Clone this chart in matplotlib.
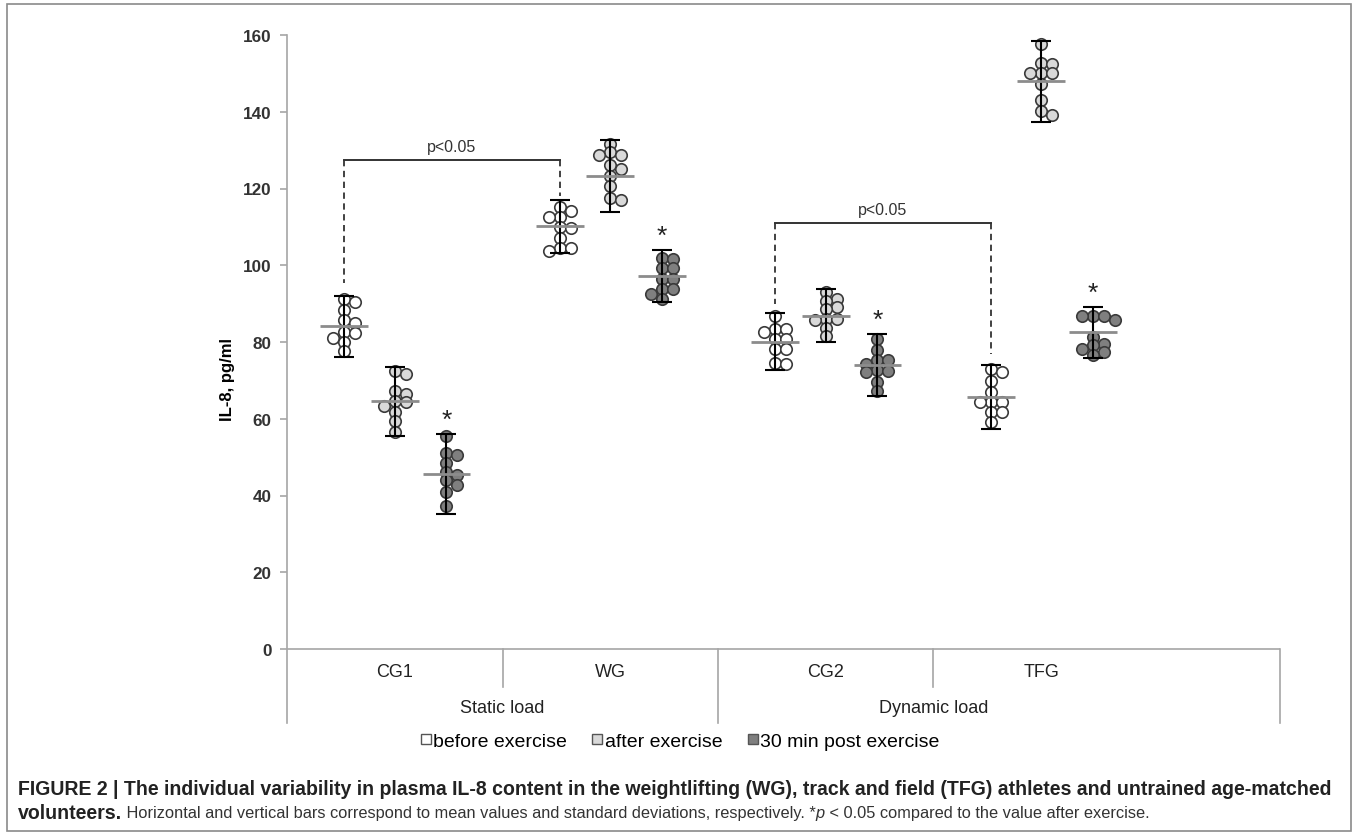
import numpy as np
import matplotlib
matplotlib.use("Agg")
import matplotlib.pyplot as plt
from matplotlib.lines import Line2D
from matplotlib.patches import Rectangle
from matplotlib import font_manager

plt.rcParams['font.family'] = ['Liberation Sans', 'DejaVu Sans']

# 数据
groups = ["CG1", "WG", "CG2", "TFG"]
load_types = ["Static load", "Dynamic load"]
phases = ["before exercise", "after exercise", "30 min post exercise"]

# 每组 10 个个体值：[before, after, 30 min]
cg1 = [
    [91.2, 90.3, 88.4, 85.7, 84.9, 82.7, 82.3, 81.0, 79.9, 77.7],
    [72.5, 71.7, 67.3, 66.4, 64.7, 64.4, 63.2, 61.8, 59.3, 56.6],
    [55.6, 51.2, 50.6, 48.5, 46.2, 45.4, 44.1, 42.7, 40.8, 37.2],
]
wg = [
    [115.1, 114.2, 112.5, 112.5, 109.9, 109.7, 107.2, 104.5, 104.4, 103.8],
    [131.5, 129.5, 128.7, 128.7, 126.0, 125.2, 123.2, 120.6, 117.4, 117.1],
    [101.8, 101.6, 99.2, 99.2, 96.4, 96.4, 93.8, 93.8, 92.5, 91.2],
]
cg2 = [
    [86.9, 83.4, 83.4, 82.5, 80.8, 80.8, 78.2, 78.2, 74.5, 74.3],
    [93.0, 91.2, 90.8, 89.0, 88.6, 86.0, 86.0, 85.8, 83.6, 81.6],
    [80.8, 78.0, 75.2, 75.2, 74.3, 72.8, 72.5, 72.3, 69.7, 67.3],
]
tfg = [
    [73.0, 72.3, 69.8, 67.1, 64.4, 64.4, 64.4, 61.8, 61.8, 59.2],
    [157.7, 152.7, 152.4, 150.0, 150.0, 150.0, 147.2, 143.1, 140.3, 139.2],
    [86.9, 86.9, 86.9, 85.8, 81.2, 79.5, 79.1, 78.2, 77.3, 76.5],
]
all_vals = [cg1, wg, cg2, tfg]

# 均值与标准差
means = [
    [84.1, 64.5, 45.6],
    [110.1, 123.3, 97.1],
    [80.1, 86.9, 74.0],
    [65.7, 147.9, 82.5],
]
sds = [
    [7.9, 9.0, 10.4],
    [7.0, 9.3, 6.8],
    [7.5, 6.8, 8.05],
    [8.25, 10.5, 6.6],
]

yticks = [0, 20, 40, 60, 80, 100, 120, 140, 160]

# 显著性括号：(组, 阶段) 到 (组, 阶段), 横线高度, 左端下落, 右端下落
brackets = [
    ((0, 0), (1, 0), 127.4, 95.5, 118.0),
    ((2, 0), (3, 0), 111.0, 89.8, 77.0),
]

W, H = 1358, 837
face_colors = ["white", "#d9d9d9", "#7f7f7f"]
edge_color = "#3a3a3a"
phase_shift = [-0.235, 0.0, 0.24]

fig = plt.figure(figsize=(W / 100, H / 100), dpi=100)
ax_left, ax_right, ax_top, ax_bottom = 287, 1280, 36, 724
ax = fig.add_axes([ax_left / W, 1 - ax_bottom / H,
                   (ax_right - ax_left) / W, (ax_bottom - ax_top) / H])
px_per_unit_y = (650 - 36) / 160.0
px_per_cat = 215.5
ax.set_ylim(-(ax_bottom - 650) / px_per_unit_y, 160)
ax.set_xlim(-0.5, -0.5 + (ax_right - ax_left) / px_per_cat)

for s in ["top", "right", "bottom"]:
    ax.spines[s].set_visible(False)
ax.spines["left"].set_color("#a6a6a6")
ax.spines["left"].set_linewidth(1.2)
ax.set_yticks(yticks)
ax.set_yticklabels([str(t) for t in yticks], fontsize=12.3, fontweight="bold", color="#333333")
ax.tick_params(axis="y", length=5, color="#a6a6a6", width=1.2, pad=6)
ax.set_xticks([])
ax.set_ylabel("IL-8, pg/ml", fontsize=12, fontweight="bold", labelpad=6)

# 零线与分类表格线
ax.axhline(0, color="#a6a6a6", lw=1.2, zorder=1)
ybot = ax.get_ylim()[0]
short_end = (650 - 688) / px_per_unit_y
for xs in [0.5, 2.5]:
    ax.plot([xs, xs], [0, short_end], color="#a6a6a6", lw=1.2, clip_on=False)
for xs in [1.5, ax.get_xlim()[1]]:
    ax.plot([xs, xs], [0, ybot], color="#a6a6a6", lw=1.2, clip_on=False)
for i, g in enumerate(groups):
    ax.text(i, (650 - 673) / px_per_unit_y, g, ha="center", va="center", fontsize=13, color="#222222")
for j, lt in enumerate(load_types):
    ax.text(0.5 + 2 * j, (650 - 709) / px_per_unit_y, lt, ha="center", va="center", fontsize=13,
            color="#222222")


def swarm_offsets(vals, col_px=11.0, min_d=7.5):
    pts = []
    offs = []
    for v in vals:
        yp = ax.transData.transform((0, v))[1]
        xp = 0.0
        for k in [0, 1, -1, 2, -2]:
            xp = k * col_px
            if all((xp - a) ** 2 + (yp - b) ** 2 >= min_d ** 2 for a, b in pts):
                break
        pts.append((xp, yp))
        offs.append(xp / px_per_cat)
    return np.array(offs)


for gi in range(len(groups)):
    for pi in range(3):
        xc = gi + phase_shift[pi]
        vals = np.array(all_vals[gi][pi])
        xs = xc + swarm_offsets(vals)
        ax.scatter(xs, vals, s=68, facecolor=face_colors[pi], edgecolor=edge_color,
                   linewidth=1.2, zorder=3)
        m, sd = means[gi][pi], sds[gi][pi]
        ax.errorbar([xc], [m], yerr=[sd], fmt="none", ecolor="black", elinewidth=1.5,
                    capsize=7, capthick=1.5, zorder=4)
        ax.hlines(m, xc - 0.111, xc + 0.111, color="#8c8c8c", lw=2, zorder=4)
        if pi == 2:
            ax.text(xc, m + sd + 0.6, "*", ha="center", va="bottom", fontsize=19, color="#222222")

for (g1, p1), (g2, p2), yb, d1, d2 in brackets:
    x1 = g1 + phase_shift[p1]
    x2 = g2 + phase_shift[p2]
    ax.plot([x1, x2], [yb, yb], color="#333333", lw=1.4)
    ax.plot([x1, x1], [yb, d1], color="#333333", lw=1.3, ls=(0, (3.5, 2.5)))
    ax.plot([x2, x2], [yb, d2], color="#333333", lw=1.3, ls=(0, (3.5, 2.5)))
    ax.text((x1 + x2) / 2, yb + 1.6, "p<0.05", ha="center", va="bottom", fontsize=11.5, color="#333333")

# 图例
handles = [Line2D([], [], ls="none", marker="s", markersize=7.5, markerfacecolor=c,
                  markeredgecolor="#555555", markeredgewidth=1) for c in face_colors]
fig.legend(handles, phases, loc="center", bbox_to_anchor=(680 / W, 1 - 742 / H), ncol=3,
           frameon=False, fontsize=14, handlelength=0.55, handletextpad=0.1, columnspacing=1.3)

# 外框
fig.patches.append(Rectangle((7 / W, 1 - 832 / H), (1351 - 7) / W, (832 - 5) / H, fill=False,
                             edgecolor="#8a8a8a", lw=1.2, transform=fig.transFigure))

# 图注
renderer = fig.canvas.get_renderer()
line1 = ("FIGURE 2 | The individual variability in plasma IL-8 content in the weightlifting (WG), "
         "track and field (TFG) athletes and untrained age-matched")
t1 = fig.text(18 / W, 1 - 790 / H, line1, fontsize=12, fontweight="bold", va="center", ha="left",
              color="#222222")
w1 = t1.get_window_extent(renderer).width
cap_size = 12 * 1312 / w1
t1.set_fontsize(cap_size)

narrow = "Liberation Sans Narrow"
have_narrow = any(f.name == narrow for f in font_manager.fontManager.ttflist)
reg_family = [narrow, "Liberation Sans"] if have_narrow else ["Liberation Sans"]

bold_run = fig.text(18 / W, 1 - 814 / H, "volunteers.", fontsize=cap_size, fontweight="bold",
                    va="center", ha="left", color="#222222")
x0 = 18 + bold_run.get_window_extent(renderer).width
reg_runs = [
    (" Horizontal and vertical bars correspond to mean values and standard deviations, respectively. *", "normal"),
    ("p", "italic"),
    (" < 0.05 compared to the value after exercise.", "normal"),
]
reg_texts = []
xpos = x0
for s, st in reg_runs:
    t = fig.text(xpos / W, 1 - 814 / H, s, fontsize=cap_size, fontstyle=st, family=reg_family,
                 va="center", ha="left", color="#333333")
    reg_texts.append(t)
    xpos += t.get_window_extent(renderer).width
# 第二行正文收窄到参考图的宽度
scale = (1148 - x0) / (xpos - x0)
if scale < 0.97:
    xpos = x0
    for t in reg_texts:
        t.set_fontsize(cap_size * scale)
        t.set_x(xpos / W)
        xpos += t.get_window_extent(renderer).width

fig.savefig("out.png", dpi=100)
